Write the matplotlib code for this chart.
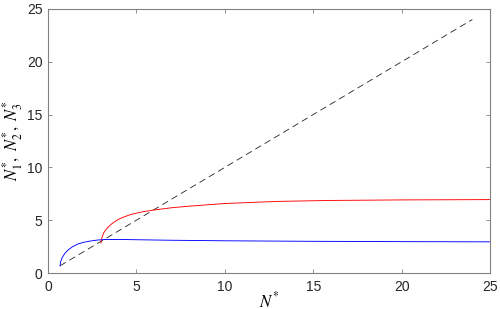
import matplotlib
matplotlib.use("Agg")
import matplotlib.pyplot as plt

plt.rcParams['font.family'] = ['Liberation Sans', 'DejaVu Sans']
plt.rcParams['mathtext.fontset'] = 'stix'

# Blue branch (N1*)
blue_x = [0.68, 0.72, 0.8, 0.95, 1.15, 1.4, 1.7, 2.0, 2.4, 2.8, 3.2, 4, 5, 7, 10, 15, 20, 25]
blue_y = [0.68, 1.1, 1.45, 1.85, 2.2, 2.5, 2.75, 2.9, 3.03, 3.12, 3.17, 3.18, 3.15, 3.1, 3.05, 3.0, 2.97, 2.95]

# Red branch
red_x = [3.0, 3.03, 3.08, 3.15, 3.25, 3.4, 3.6, 3.85, 4.2, 4.7, 5.3, 6.0, 7.0, 8.0, 10, 13, 16, 20, 25]
red_y = [2.85, 3.2, 3.5, 3.8, 4.05, 4.35, 4.65, 4.95, 5.25, 5.55, 5.78, 5.97, 6.18, 6.33, 6.58, 6.78, 6.87, 6.92, 6.95]

# Identity reference line
diag_x = [0.68, 24]
diag_y = [0.68, 24]

xticks = [0, 5, 10, 15, 20, 25]
yticks = [0, 5, 10, 15, 20, 25]

fig = plt.figure(figsize=(5, 3.09), dpi=100)
ax = fig.add_axes([0.096, 0.1165, 0.884, 0.8545])

ax.plot(diag_x, diag_y, color='#222222', lw=0.6, ls=(0, (8, 5)))
ax.plot(red_x, red_y, color='red', lw=0.65)
ax.plot(blue_x, blue_y, color='blue', lw=0.65)

ax.set_xlim(0, 25)
ax.set_ylim(0, 25)
ax.set_xticks(xticks)
ax.set_yticks(yticks)
ax.tick_params(direction='in', length=3, width=0.6, labelcolor='#262626',
               labelsize=10, top=True, right=True, color='#808080')
ax.tick_params(axis='x', pad=5)
ax.tick_params(axis='y', pad=4)
for s in ax.spines.values():
    s.set_color('#808080')
    s.set_linewidth(0.8)

ax.set_xlabel(r'$N^{*}$', fontsize=12, labelpad=-2.5)
ax.set_ylabel(r'$N_1^{*},\ N_2^{*},\ N_3^{*}$', fontsize=12, labelpad=1)

fig.savefig('out.png', dpi=100)
